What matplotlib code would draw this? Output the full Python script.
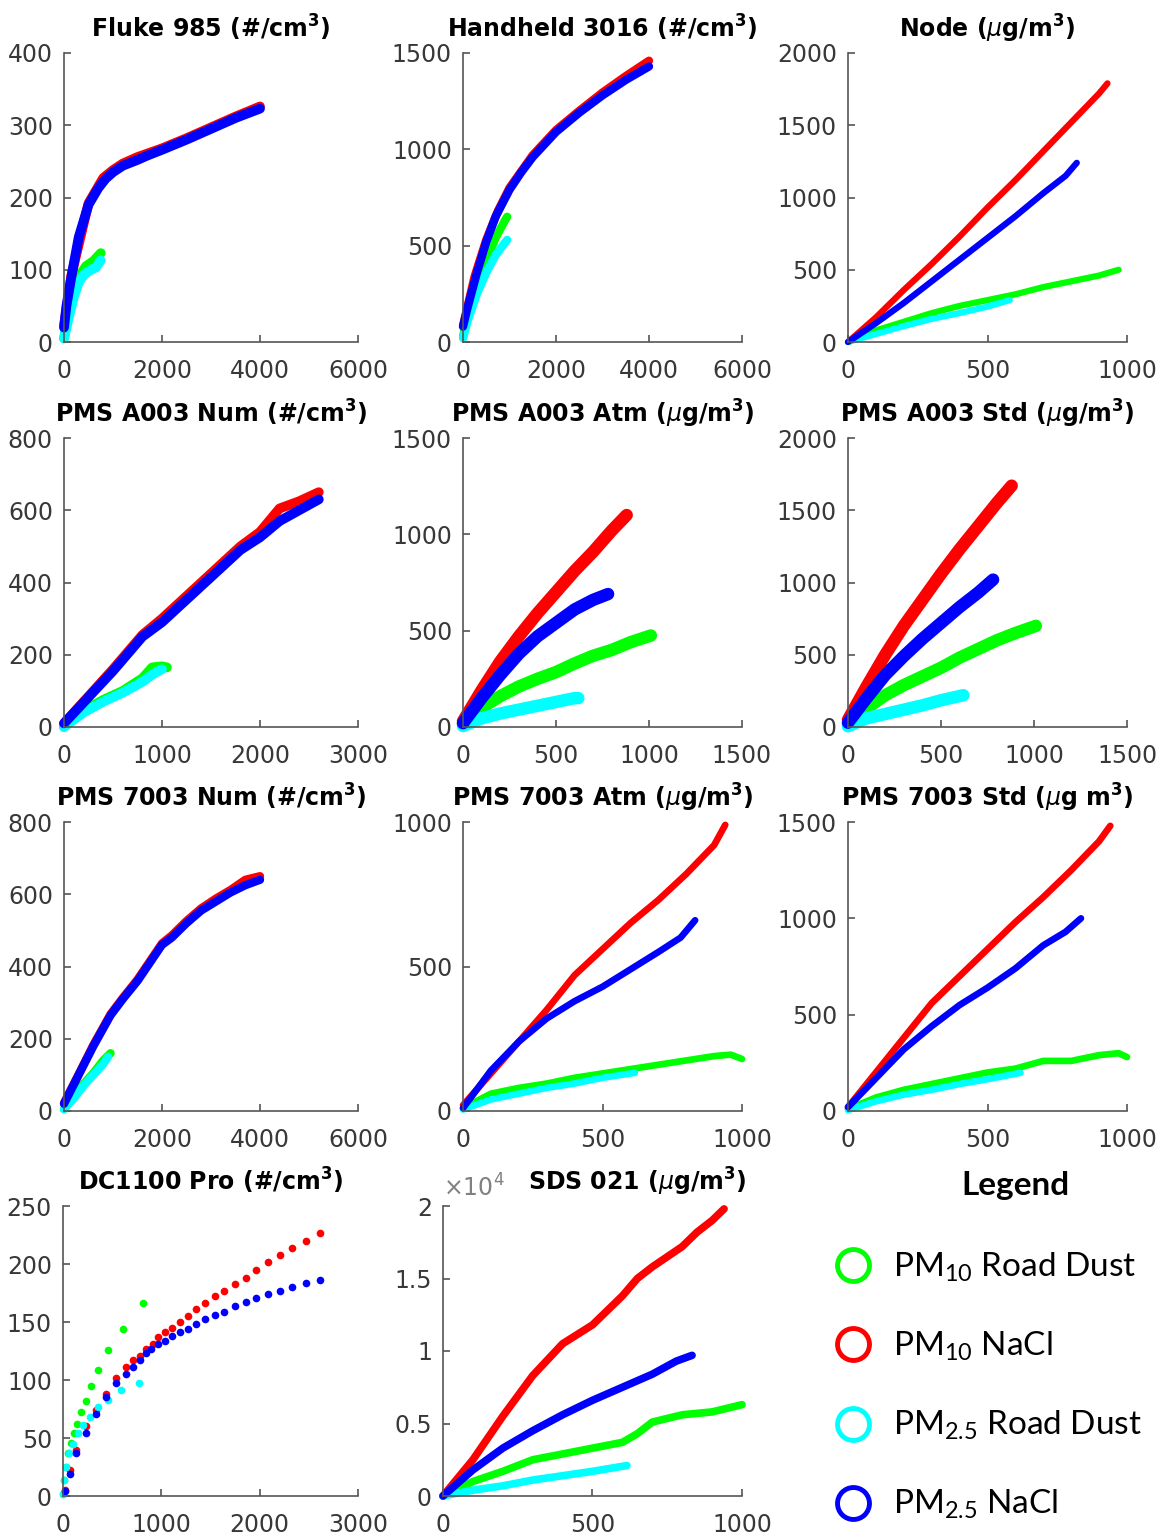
import matplotlib
matplotlib.use('Agg')
import matplotlib.pyplot as plt
import matplotlib.ticker as mticker
from matplotlib.lines import Line2D
import numpy as np

plt.rcParams['font.family'] = 'DejaVu Sans'
plt.rcParams['mathtext.fontset'] = 'custom'
plt.rcParams['mathtext.it'] = 'DejaVu Sans:italic'
plt.rcParams['mathtext.default'] = 'regular'

W, H = 1162, 1539

series_labels = ['PM$_{10}$ Road Dust', 'PM$_{10}$ NaCl', 'PM$_{2.5}$ Road Dust', 'PM$_{2.5}$ NaCl']
series_colors = ['#00ff00', '#ff0000', '#00ffff', '#0000ff']

# ---- data: (x list, y list) per series ----
# Fluke 985
fluke_g = ([0, 100, 200, 350, 450, 600, 750], [5, 40, 70, 95, 105, 112, 123])
fluke_r = ([0, 150, 500, 800, 1000, 1200, 1500, 2000, 2500, 3000, 3500, 4000],
           [22, 92, 192, 227, 238, 247, 256, 268, 282, 297, 312, 326])
fluke_c = ([0, 100, 200, 300, 400, 550, 650, 750], [5, 35, 62, 82, 93, 100, 103, 113])
fluke_b = ([0, 50, 150, 300, 500, 700, 850, 1000, 1200, 1500, 1700, 2000, 2500, 3000, 3500, 4000],
           [20, 50, 90, 145, 190, 213, 226, 235, 244, 252, 258, 266, 280, 295, 310, 323])

# Handheld 3016
hand_g = ([0, 100, 300, 500, 700, 900, 950], [30, 130, 290, 420, 540, 630, 650])
hand_r = ([0, 250, 500, 750, 1000, 1500, 2000, 2500, 3000, 3500, 4000],
          [85, 340, 530, 680, 800, 970, 1100, 1200, 1295, 1380, 1460])
hand_c = ([0, 100, 300, 500, 700, 900, 950], [20, 110, 250, 360, 450, 515, 530])
hand_b = ([0, 100, 300, 500, 700, 1000, 1250, 1500, 2000, 2500, 3000, 3500, 4000],
          [80, 180, 360, 520, 650, 790, 880, 960, 1090, 1190, 1280, 1360, 1430])

# Node
node_g = ([0, 100, 200, 300, 400, 500, 600, 700, 800, 900, 970], [0, 80, 140, 200, 250, 290, 330, 380, 420, 460, 500])
node_r = ([0, 100, 200, 300, 400, 500, 600, 700, 800, 850, 900, 930],
          [0, 170, 360, 540, 730, 930, 1120, 1320, 1520, 1620, 1720, 1790])
node_c = ([0, 100, 200, 300, 400, 500, 580], [0, 55, 110, 160, 200, 245, 290])
node_b = ([0, 100, 200, 300, 400, 500, 600, 700, 780, 820], [0, 130, 270, 420, 570, 720, 870, 1030, 1150, 1240])

# PMS A003 Num
a3n_g = ([0, 200, 400, 600, 800, 900, 1000, 1050], [0, 45, 75, 100, 135, 165, 168, 165])
a3n_r = ([0, 200, 500, 800, 1000, 1200, 1400, 1600, 1800, 2000, 2200, 2400, 2600],
         [10, 70, 160, 255, 300, 350, 400, 450, 500, 540, 605, 625, 650])
a3n_c = ([0, 200, 400, 600, 800, 900, 1000], [0, 40, 70, 95, 125, 145, 160])
a3n_b = ([0, 200, 500, 800, 1000, 1200, 1400, 1600, 1800, 2000, 2200, 2400, 2600],
         [10, 68, 155, 250, 290, 340, 390, 440, 490, 525, 570, 600, 630])

# PMS A003 Atm
a3a_g = ([0, 100, 200, 300, 400, 500, 600, 700, 800, 900, 1010], [15, 100, 160, 210, 250, 285, 330, 370, 400, 440, 475])
a3a_r = ([0, 100, 200, 300, 400, 500, 600, 700, 800, 880], [30, 190, 340, 470, 590, 700, 810, 910, 1020, 1100])
a3a_c = ([0, 100, 200, 300, 400, 500, 600, 620], [5, 45, 70, 90, 110, 130, 150, 150])
a3a_b = ([0, 100, 200, 300, 400, 500, 600, 700, 780], [20, 150, 270, 380, 470, 540, 610, 660, 690])

# PMS A003 Std
a3s_g = ([0, 100, 200, 300, 400, 500, 600, 700, 800, 900, 1010], [20, 130, 220, 290, 350, 410, 480, 540, 600, 650, 700])
a3s_r = ([0, 100, 200, 300, 400, 500, 600, 700, 800, 880], [50, 280, 500, 700, 880, 1060, 1230, 1390, 1550, 1670])
a3s_c = ([0, 100, 200, 300, 400, 500, 620], [5, 60, 90, 120, 150, 185, 220])
a3s_b = ([0, 100, 200, 300, 400, 500, 600, 700, 780], [30, 200, 360, 490, 610, 720, 830, 930, 1020])

# PMS 7003 Num
p7n_g = ([0, 200, 400, 600, 800, 950], [5, 40, 75, 105, 140, 160])
p7n_r = ([0, 300, 600, 950, 1200, 1500, 1800, 2000, 2200, 2500, 2800, 3100, 3400, 3700, 4000],
         [22, 102, 183, 268, 313, 364, 424, 464, 486, 526, 561, 588, 612, 640, 650])
p7n_c = ([0, 200, 400, 600, 800, 900], [5, 35, 70, 100, 130, 150])
p7n_b = ([0, 300, 600, 950, 1200, 1500, 1800, 2000, 2200, 2500, 2800, 3100, 3400, 3700, 4000],
         [20, 100, 180, 265, 310, 360, 420, 460, 480, 520, 555, 580, 605, 625, 640])

# PMS 7003 Atm
p7a_g = ([0, 100, 200, 300, 400, 500, 600, 700, 800, 900, 960, 1000],
         [10, 60, 80, 95, 115, 130, 145, 160, 175, 190, 195, 180])
p7a_r = ([0, 100, 200, 300, 400, 500, 600, 700, 800, 900, 940], [20, 130, 240, 350, 470, 560, 650, 730, 820, 920, 990])
p7a_c = ([0, 100, 200, 300, 400, 500, 616], [5, 40, 60, 80, 95, 115, 132])
p7a_b = ([0, 100, 200, 300, 400, 500, 600, 700, 780, 832], [10, 140, 240, 320, 380, 430, 490, 550, 600, 660])

# PMS 7003 Std
p7s_g = ([0, 100, 200, 300, 400, 500, 600, 700, 800, 900, 970, 1000],
         [10, 70, 110, 140, 170, 200, 220, 260, 260, 290, 300, 280])
p7s_r = ([0, 100, 200, 300, 400, 500, 600, 700, 800, 900, 940],
         [20, 200, 380, 560, 700, 840, 980, 1110, 1250, 1400, 1480])
p7s_c = ([0, 100, 200, 300, 400, 500, 618], [5, 50, 85, 110, 140, 165, 198])
p7s_b = ([0, 100, 200, 300, 400, 500, 600, 700, 780, 835], [20, 170, 320, 440, 550, 640, 740, 860, 930, 1000])

# DC1100 Pro (sparse points)
dc_g = ([0, 10, 27, 51, 78, 108, 142, 186, 231, 288, 356, 458, 610, 814],
        [2, 14, 25, 37, 46, 54, 62, 72, 82, 95, 109, 126, 144, 166])
dc_r = ([17, 68, 136, 237, 339, 441, 542, 644, 712, 780, 847, 915, 966, 1034, 1112, 1186, 1271, 1356, 1441,
         1542, 1634, 1746, 1858, 1966, 2085, 2203, 2332, 2468, 2610],
        [5, 22, 40, 60, 74, 88, 102, 111, 117, 121, 127, 131, 137, 141, 145, 150, 155, 161, 166,
         172, 177, 183, 188, 195, 202, 208, 214, 220, 227])
dc_c = ([0, 10, 34, 61, 102, 153, 203, 271, 356, 458, 593, 773],
        [2, 14, 25, 37, 45, 54, 61, 68, 77, 83, 91, 97])
dc_b = ([17, 68, 136, 237, 339, 441, 542, 644, 712, 780, 847, 898, 966, 1034, 1112, 1186, 1271, 1356, 1441,
         1542, 1634, 1746, 1858, 1966, 2085, 2203, 2332, 2468, 2610],
        [4, 19, 37, 54, 71, 85, 97, 105, 111, 117, 123, 127, 131, 134, 138, 141, 144, 148, 153,
         156, 159, 164, 167, 171, 174, 177, 180, 184, 186])

# SDS 021
sds_g = ([0, 100, 200, 300, 400, 500, 600, 650, 700, 800, 900, 1000],
         [0, 1000, 1700, 2500, 2900, 3300, 3700, 4300, 5100, 5600, 5800, 6300])
sds_r = ([0, 100, 200, 300, 400, 500, 600, 650, 700, 800, 850, 900, 940],
         [0, 2500, 5500, 8300, 10500, 11800, 13800, 15000, 15800, 17200, 18200, 19000, 19800])
sds_c = ([0, 100, 200, 300, 400, 500, 615], [0, 400, 700, 1100, 1400, 1700, 2100])
sds_b = ([0, 100, 200, 300, 400, 500, 600, 700, 780, 833], [0, 1800, 3300, 4500, 5600, 6600, 7500, 8400, 9300, 9700])

titles = ['Fluke 985 (#/cm$^3$)', 'Handheld 3016 (#/cm$^3$)', 'Node ($\\mathit{\\mu}$g/m$^3$)',
          'PMS A003 Num (#/cm$^3$)', 'PMS A003 Atm ($\\mathit{\\mu}$g/m$^3$)', 'PMS A003 Std ($\\mathit{\\mu}$g/m$^3$)',
          'PMS 7003 Num (#/cm$^3$)', 'PMS 7003 Atm ($\\mathit{\\mu}$g/m$^3$)', 'PMS 7003 Std ($\\mathit{\\mu}$g m$^3$)',
          'DC1100 Pro (#/cm$^3$)', 'SDS 021 ($\\mathit{\\mu}$g/m$^3$)']
panel_data = [
    [fluke_g, fluke_r, fluke_c, fluke_b],
    [hand_g, hand_r, hand_c, hand_b],
    [node_g, node_r, node_c, node_b],
    [a3n_g, a3n_r, a3n_c, a3n_b],
    [a3a_g, a3a_r, a3a_c, a3a_b],
    [a3s_g, a3s_r, a3s_c, a3s_b],
    [p7n_g, p7n_r, p7n_c, p7n_b],
    [p7a_g, p7a_r, p7a_c, p7a_b],
    [p7s_g, p7s_r, p7s_c, p7s_b],
    [dc_g, dc_r, dc_c, dc_b],
    [sds_g, sds_r, sds_c, sds_b],
]
x_limits = [(0, 6000, 2000), (0, 6000, 2000), (0, 1000, 500),
            (0, 3000, 1000), (0, 1500, 500), (0, 1500, 500),
            (0, 6000, 2000), (0, 1000, 500), (0, 1000, 500),
            (0, 3000, 1000), (0, 1000, 500)]
y_limits = [(0, 400, 100), (0, 1500, 500), (0, 2000, 500),
            (0, 800, 200), (0, 1500, 500), (0, 2000, 500),
            (0, 800, 200), (0, 1000, 500), (0, 1500, 500),
            (0, 250, 50), (0, 20000, 5000)]

# layout (pixels: left, top, right, bottom) and band widths
boxes = [(64, 53, 358, 342), (463, 53, 742, 342), (848, 53, 1127, 342),
         (64, 438, 358, 727), (463, 438, 742, 727), (848, 438, 1127, 727),
         (64, 822, 358, 1111), (463, 822, 742, 1111), (848, 822, 1127, 1111),
         (63, 1206, 358, 1496), (443, 1206, 742, 1496)]
band_lw = [7, 6, 4.5, 7, 9, 9, 6, 4.8, 4.8, 0, 5.5]

axis_color = '#555555'
label_color = '#383838'

fig = plt.figure(figsize=(W / 100, H / 100), dpi=100)

for i in range(11):
    l, t, r, b = boxes[i]
    ax = fig.add_axes([l / W, 1 - b / H, (r - l) / W, (b - t) / H])
    for (xs, ys), col in zip(panel_data[i], series_colors):
        if band_lw[i] > 0:
            ax.plot(xs, ys, '-', color=col, lw=band_lw[i], solid_capstyle='round',
                    solid_joinstyle='round', clip_on=False)
        else:
            ax.plot(xs, ys, 'o', color=col, ms=5.5, mew=0, clip_on=False)
    x0, x1, dx = x_limits[i]
    y0, y1, dy = y_limits[i]
    ax.set_xlim(x0, x1)
    ax.set_ylim(y0, y1)
    ax.set_xticks(np.arange(x0, x1 + dx / 2, dx))
    ax.set_yticks(np.arange(y0, y1 + dy / 2, dy))
    for s in ['top', 'right']:
        ax.spines[s].set_visible(False)
    for s in ['left', 'bottom']:
        ax.spines[s].set_color(axis_color)
        ax.spines[s].set_linewidth(1.2)
    ax.tick_params(direction='in', length=5, width=1.2, color=axis_color,
                   labelcolor=label_color, labelsize=17)
    ax.tick_params(axis='x', pad=12)
    ax.tick_params(axis='y', pad=8)
    if i == 10:
        ax.yaxis.set_major_formatter(mticker.FuncFormatter(lambda v, p: '%g' % (v / 1e4)))
        ax.text(0.0, 1.015, '$\\times$10$^4$', transform=ax.transAxes, ha='left', va='bottom',
                fontsize=17, color='#808080')
        ax.set_title(titles[i], fontsize=17, fontweight='bold', pad=11, x=0.65)
    else:
        ax.set_title(titles[i], fontsize=17, fontweight='bold', pad=11)

# legend
fig.text(1015 / W, 1 - 1185 / H, 'Legend', ha='center', va='center', fontsize=24,
         fontweight='bold', family='Lato')
handles = [Line2D([], [], ls='none', marker='o', ms=23, mfc='none', mec=c, mew=3.5) for c in series_colors]
fig.legend(handles, series_labels, loc='upper left', bbox_to_anchor=(836 / W, 1 - 1251 / H),
           frameon=False, prop={'family': 'Lato', 'size': 24}, handlelength=1.0,
           handletextpad=0.7, labelspacing=1.38, borderpad=0, borderaxespad=0)

fig.savefig('out.png', dpi=100)
